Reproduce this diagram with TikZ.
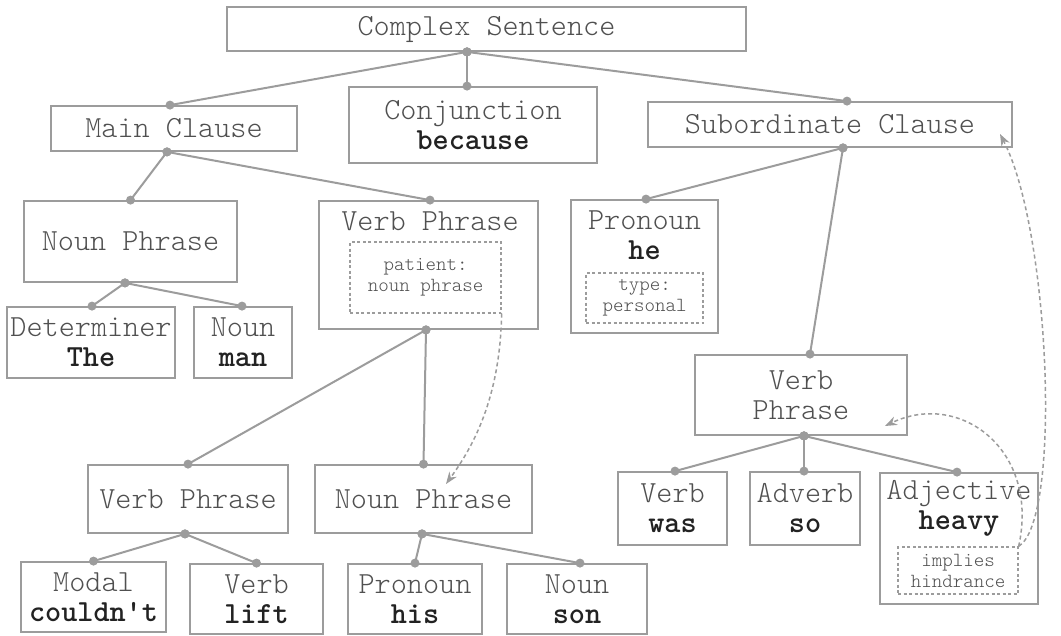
\documentclass[tikz,border=0pt]{standalone}
\usetikzlibrary{arrows.meta,calc}
\definecolor{edge}{HTML}{9C9C9C}
\definecolor{txt}{HTML}{505050}
\definecolor{bld}{HTML}{222222}
\newcommand\kw[1]{{\fontseries{b}\selectfont\color{bld}#1}}
\newcommand\lnk[2]{\draw[link] (#1) -- (#2); \fill[edge] (#1) circle (4.5pt); \fill[edge] (#2) circle (4.5pt);}
\begin{document}
\begin{tikzpicture}[x=1pt,y=-1pt,
  box/.style={draw=edge,line width=1.8pt,fill=white,inner sep=0pt,text=txt,align=center,font=\ttfamily\fontsize{30.7}{30}\fontseries{l}\selectfont},
  note/.style={draw=edge,line width=1.3pt,dash pattern=on 3pt off 2.5pt,inner sep=0pt,text=txt,align=center,font=\ttfamily\fontsize{20}{21}\fontseries{l}\selectfont},
  lbl/.style={inner sep=0pt,text=txt,align=center,font=\ttfamily\fontsize{30.7}{30}\fontseries{l}\selectfont},
  link/.style={draw=edge,line width=2pt},
  ref/.style={draw=edge,line width=1.5pt,dash pattern=on 4pt off 3pt,-{Stealth[length=12pt,width=9pt]}}
]
\fill[white] (0,0) rectangle (1061,635);
\useasboundingbox (0,0) rectangle (1061,635);

% boxes
\node[box,minimum width=519pt,minimum height=44pt] (cs) at (486.5,29) {Complex Sentence};
\node[box,minimum width=246pt,minimum height=45pt] (mc) at (174,128.5) {Main Clause};
\node[box,minimum width=248pt,minimum height=76pt] (conj) at (473,125) {Conjunction\\\kw{because}};
\node[box,minimum width=364pt,minimum height=45pt] (sub) at (830,124.5) {Subordinate Clause};
\node[box,minimum width=213pt,minimum height=81pt] (np1) at (130.5,241.5) {Noun Phrase};
\node[box,minimum width=219pt,minimum height=128pt] (vp1) at (428.5,265) {};
\node[lbl] (vp1t) at (430,221) {Verb Phrase};
\node[note,minimum width=151pt,minimum height=71pt] (pat) at (425.5,277.5) {patient:\\noun phrase};
\node[box,minimum width=168pt,minimum height=71pt] (det) at (91,342.5) {Determiner\\\kw{The}};
\node[box,minimum width=98pt,minimum height=71pt] (noun1) at (243,342.5) {Noun\\\kw{man}};
\node[box,minimum width=147pt,minimum height=133pt] (pron1) at (644.5,266.5) {};
\node[lbl] (pron1t) at (644.5,235) {Pronoun\\\kw{he}};
\node[note,minimum width=117pt,minimum height=50pt] (typ) at (644.5,298) {type:\\personal};
\node[box,minimum width=212pt,minimum height=80pt] (vp2) at (801,395) {Verb\\Phrase};
\node[box,minimum width=109pt,minimum height=73pt] (verb1) at (672.5,508.5) {Verb\\\kw{was}};
\node[box,minimum width=110pt,minimum height=73pt] (adv) at (805,508.5) {Adverb\\\kw{so}};
\node[box,minimum width=158pt,minimum height=131pt] (adj) at (959,538.5) {};
\node[lbl] (adjt) at (959,508) {Adjective\\\kw{heavy}};
\node[note,minimum width=120pt,minimum height=47pt] (imp) at (958,570.5) {implies\\hindrance};
\node[box,minimum width=200pt,minimum height=68pt] (vp3) at (188,499) {Verb Phrase};
\node[box,minimum width=217pt,minimum height=68pt] (np2) at (423.5,499) {Noun Phrase};
\node[box,minimum width=145pt,minimum height=70pt] (modal) at (93.5,597) {Modal\\\kw{couldn't}};
\node[box,minimum width=133pt,minimum height=70pt] (verb2) at (256.5,599) {Verb\\\kw{lift}};
\node[box,minimum width=134pt,minimum height=70pt] (pron2) at (415,599) {Pronoun\\\kw{his}};
\node[box,minimum width=140pt,minimum height=70pt] (noun2) at (577,599) {Noun\\\kw{son}};

% tree links
\lnk{[xshift=-19.5pt]cs.south}{[xshift=-4pt]mc.north}
\lnk{[xshift=-19.5pt]cs.south}{[xshift=-6pt]conj.north}
\lnk{[xshift=-19.5pt]cs.south}{[xshift=17pt]sub.north}
\lnk{[xshift=-7pt]mc.south}{np1.north}
\lnk{[xshift=-7pt]mc.south}{[xshift=1.5pt]vp1.north}
\lnk{[xshift=-5.5pt]np1.south}{[xshift=1pt]det.north}
\lnk{[xshift=-5.5pt]np1.south}{[xshift=-1pt]noun1.north}
\lnk{[xshift=-2.5pt]vp1.south}{vp3.north}
\lnk{[xshift=-2.5pt]vp1.south}{np2.north}
\lnk{[xshift=-3pt]vp3.south}{modal.north}
\lnk{[xshift=-3pt]vp3.south}{verb2.north}
\lnk{[xshift=-1.5pt]np2.south}{pron2.north}
\lnk{[xshift=-1.5pt]np2.south}{[xshift=3pt]noun2.north}
\lnk{[xshift=13pt]sub.south}{[xshift=1.5pt]pron1.north}
\lnk{[xshift=13pt]sub.south}{[xshift=9pt]vp2.north}
\lnk{[xshift=3pt]vp2.south}{[xshift=2.5pt]verb1.north}
\lnk{[xshift=3pt]vp2.south}{[xshift=-1pt]adv.north}
\lnk{[xshift=3pt]vp2.south}{[xshift=-2pt]adj.north}

% reference arrows
\coordinate (np2in) at (446,484);
\coordinate (subin) at (1000,134);
\coordinate (vp2in) at (885,426);
\draw[ref] (pat.south east) .. controls (500,400) and (472,448) .. (np2in);
\draw[ref] (imp.north east) .. controls (1062,520) and (1050,230) .. (subin);
\draw[ref] (imp.north east) .. controls (1040,450) and (960,390) .. (vp2in);
\end{tikzpicture}
\end{document}
